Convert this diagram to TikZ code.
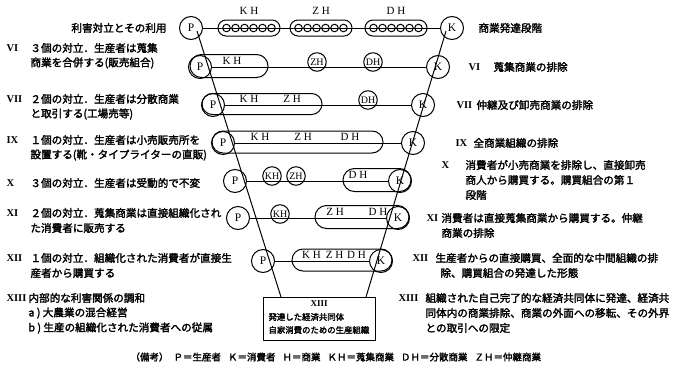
\documentclass[tikz,border=0pt]{standalone}
\usepackage{fontspec}
\usetikzlibrary{shapes.misc}
\newfontfamily\jp[FakeBold=2.2]{Noto Sans CJK JP}
\newfontfamily\ser{Liberation Serif}
\begin{document}
\begin{tikzpicture}[x=1pt,y=-1pt,line width=1pt,
  pk/.style={circle,draw,minimum size=23pt,inner sep=0pt,font=\ser\fontsize{11.5}{11.5}\selectfont},
  sm/.style={circle,draw,minimum size=18.5pt,inner sep=0pt,font=\ser\fontsize{10}{10}\selectfont},
  dot/.style={circle,draw,minimum size=7.5pt,inner sep=0pt,line width=1pt},
  pill/.style={rounded rectangle,draw,inner sep=0pt},
  lbl/.style={inner sep=0pt,font=\ser\fontsize{11}{11}\selectfont},
  jt/.style={anchor=west,inner sep=0pt,font=\jp\fontsize{10.6}{10.6}\selectfont},
  jr/.style={anchor=east,inner sep=0pt,font=\jp\fontsize{10.6}{10.6}\selectfont},
  bx/.style={anchor=west,inner sep=0pt,font=\jp\fontsize{8.4}{8.4}\selectfont},
  rn/.style={anchor=west,inner sep=0pt,font=\ser\bfseries\fontsize{10.5}{10.5}\selectfont},
  ft/.style={anchor=west,inner sep=0pt,font=\jp\fontsize{9.5}{9.5}\selectfont}]
\useasboundingbox (0,0) rectangle (684,372);
% ---------- row 0
\node[pk] (P0) at (191,28) {P};
\node[pk] (K0) at (452,28) {K};
\foreach \n/\cx/\t in {a/249/K H,b/321/Z H,c/396/D H}{
  \node[pill,minimum width=62pt,minimum height=16pt] (pl0\n) at (\cx,28) {};
  \node[lbl] (lb0\n) at (\cx,11) {\t};
  \foreach \i in {-22.5,-13.5,-4.5,4.5,13.5,22.5}{
    \node[dot] at (\cx+\i,28) {};}
}
\draw (P0.east) -- (K0.west);
% ---------- row 1
\node[pk] (P1) at (200,67) {P};
\node[pill,minimum width=78pt,minimum height=23pt] (pl1) at (229,66) {};
\node[lbl] (lb1a) at (232,61) {K H};
\node[sm] (c1b) at (317,62) {ZH};
\node[sm] (c1c) at (373,62) {DH};
\node[pk] (K1) at (438,67) {K};
\draw (P1.east) -- (K1.west);
% ---------- row 2
\node[pk] (P2) at (213,105) {P};
\node[pill,minimum width=120pt,minimum height=21pt] (pl2) at (262,104) {};
\node[lbl] (lb2a) at (249,99) {K H};
\node[lbl] (lb2b) at (292,99) {Z H};
\node[sm] (c2c) at (368,100) {DH};
\node[pk] (K2) at (423,105) {K};
\draw (P2.east) -- (K2.west);
% ---------- row 3
\node[pk] (P3) at (223,143) {P};
\node[pill,minimum width=171pt,minimum height=22pt] (pl3) at (297.5,142) {};
\node[lbl] (lb3a) at (260,137) {K H};
\node[lbl] (lb3b) at (303,137) {Z H};
\node[lbl] (lb3c) at (350,137) {D H};
\node[pk] (K3) at (413,143) {K};
\draw (P3.east) -- (K3.west);
% ---------- row 4
\node[pk] (P4) at (235,181) {P};
\node[sm] (c4a) at (272,176) {KH};
\node[sm] (c4b) at (296,176) {ZH};
\node[pill,minimum width=68pt,minimum height=23pt] (pl4) at (377,180) {};
\node[lbl] (lb4c) at (358,175) {D H};
\node[pk] (K4) at (400,181) {K};
\draw (P4.east) -- (K4.west);
% ---------- row 5
\node[pk] (P5) at (238,218) {P};
\node[sm] (c5a) at (280,214) {KH};
\node[pill,minimum width=94pt,minimum height=23pt] (pl5) at (362,217) {};
\node[lbl] (lb5b) at (335,212) {Z H};
\node[lbl] (lb5c) at (378,212) {D H};
\node[pk] (K5) at (398,218) {K};
\draw (P5.east) -- (K5.west);
% ---------- row 6
\node[pk] (P6) at (263,261) {P};
\node[pill,minimum width=100pt,minimum height=22pt] (pl6) at (342,260) {};
\node[lbl] (lb6) at (334,255) {K H\hspace{5pt}Z H\hspace{4pt}D H};
\node[pk] (K6) at (381,261) {K};
\draw (P6.east) -- (K6.west);
% ---------- box
\node[draw,minimum width=112pt,minimum height=43pt,inner sep=0pt] (box) at (319,318.5) {};
\node[inner sep=0pt,font=\ser\bfseries\fontsize{9}{9}\selectfont] (bx0) at (319,304) {XIII};
\node[bx] (bx1) at (268,317) {発達した経済共同体};
\node[bx] (bx2) at (268,330) {自家消費のための生産組織};
% ---------- funnel
\coordinate (fl0) at (197,31);
\coordinate (fl1) at (281,297);
\coordinate (fr0) at (446,31);
\coordinate (fr1) at (366,297);
\draw (fl0) -- (fl1);
\draw (fr0) -- (fr1);
% ---------- left texts
\node[jr] (t0) at (167,28) {利害対立とその利用};
\node[rn] (n6) at (6,48) {VI};
\node[jt] (a6a) at (30,48) {３個の対立．生産者は蒐集};
\node[jt] (a6b) at (30,63) {商業を合併する(販売組合)};
\node[rn] (n7) at (6,99) {VII};
\node[jt] (a7a) at (30,99) {２個の対立．生産者は分散商業};
\node[jt] (a7b) at (30,114) {と取引する(工場売等)};
\node[rn] (n9) at (6,140) {IX};
\node[jt] (a9a) at (30,140) {１個の対立．生産者は小売販売所を};
\node[jt] (a9b) at (30,155) {設置する(靴・タイプライターの直販)};
\node[rn] (n10) at (6,183) {X};
\node[jt] (a10) at (30,183) {３個の対立．生産者は受動的で不変};
\node[rn] (n11) at (6,213) {XI};
\node[jt] (a11a) at (30,213) {２個の対立．蒐集商業は直接組織化され};
\node[jt] (a11b) at (30,228) {た消費者に販売する};
\node[rn] (n12) at (6,258) {XII};
\node[jt] (a12a) at (30,258) {１個の対立．組織化された消費者が直接生};
\node[jt] (a12b) at (30,273) {産者から購買する};
\node[rn] (n13) at (6,298) {XIII};
\node[jt] (a13a) at (28,298) {内部的な利害関係の調和};
\node[jt] (a13b) at (28,313) {a ) 大農業の混合経営};
\node[jt] (a13c) at (28,328) {b ) 生産の組織化された消費者への従属};
% ---------- right texts
\node[jt] (r0) at (478,28) {商業発達段階};
\node[rn] (m6) at (468,67) {VI};
\node[jt] (b6) at (493,67) {蒐集商業の排除};
\node[rn] (m7) at (456,105) {VII};
\node[jt] (b7) at (476,105) {仲継及び卸売商業の排除};
\node[rn] (m9) at (455,143) {IX};
\node[jt] (b9) at (473,143) {全商業組織の排除};
\node[rn] (m10) at (441,165) {X};
\node[jt] (b10a) at (465,165) {消費者が小売商業を排除し、直接卸売};
\node[jt] (b10b) at (465,180) {商人から購買する。購買組合の第１};
\node[jt] (b10c) at (465,195) {段階};
\node[rn] (m11) at (426,218) {XI};
\node[jt] (b11a) at (441,218) {消費者は直接蒐集商業から購買する。仲継};
\node[jt] (b11b) at (441,233) {商業の排除};
\node[rn] (m12) at (412,258) {XII};
\node[jt] (b12a) at (435,258) {生産者からの直接購買、全面的な中間組織の排};
\node[jt] (b12b) at (440,273) {除、購買組合の発達した形態};
\node[rn] (m13) at (398,298) {XIII};
\node[jt] (b13a) at (425,298) {組織された自己完了的な経済共同体に発達、経済共};
\node[jt] (b13b) at (425,313) {同体内の商業排除、商業の外面への移転、その外界};
\node[jt] (b13c) at (425,328) {との取引への限定};
% ---------- footer
\node[ft] (foot) at (130,357) {（備考）\hspace{5pt}Ｐ＝生産者\hspace{7pt}Ｋ＝消費者\hspace{7pt}Ｈ＝商業\hspace{7pt}ＫＨ＝蒐集商業\hspace{7pt}ＤＨ＝分散商業\hspace{7pt}ＺＨ＝仲継商業};
\end{tikzpicture}
\end{document}
